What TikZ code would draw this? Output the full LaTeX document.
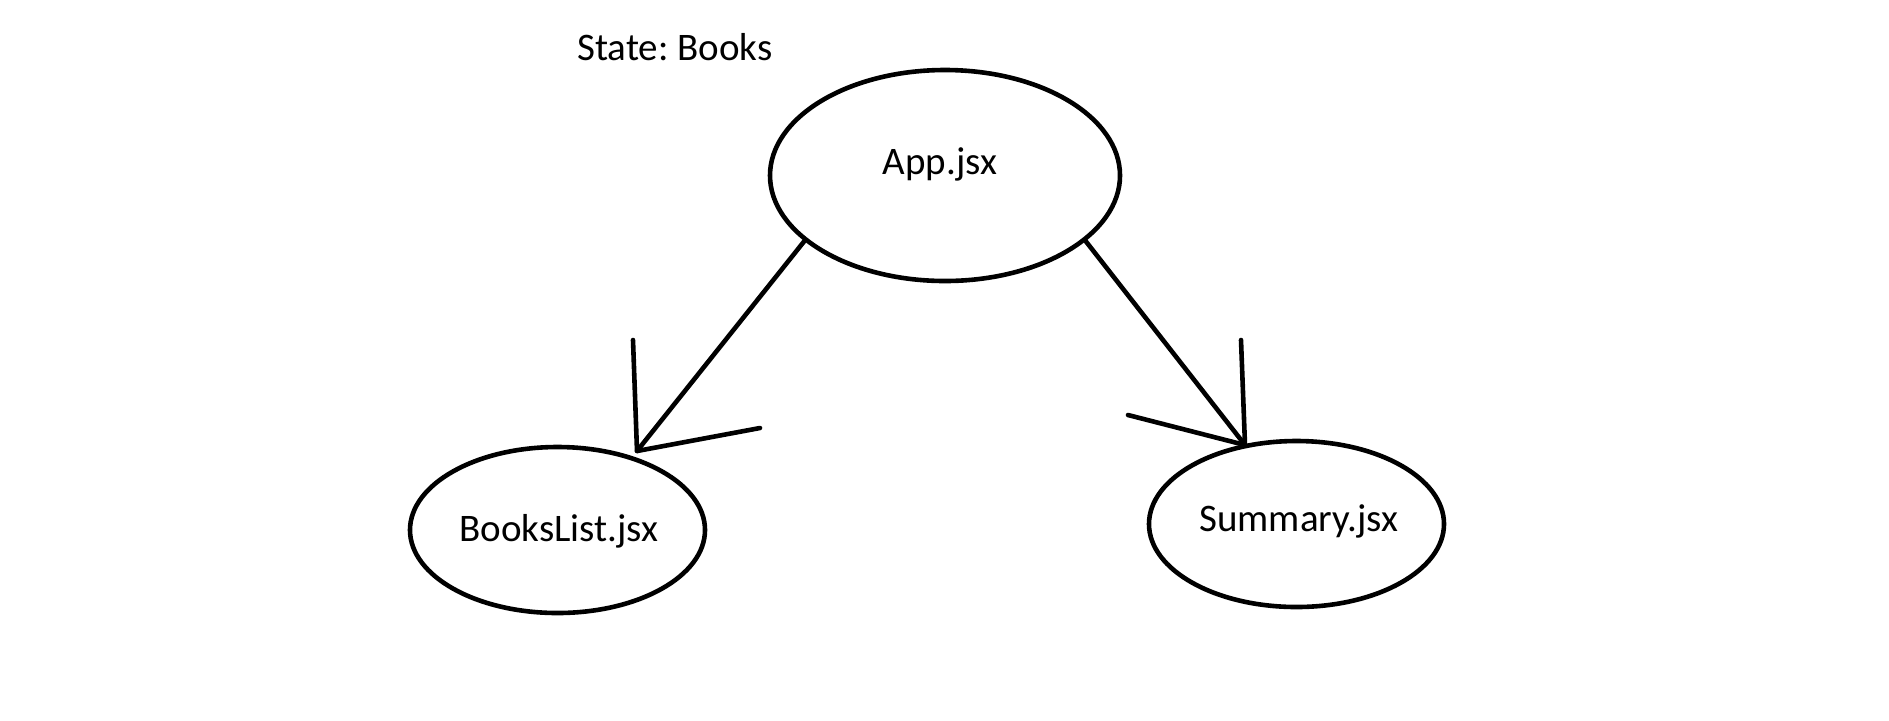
\documentclass[tikz,border=0pt]{standalone}
\usepackage{fontspec}
\setmainfont{Carlito}
\usetikzlibrary{shapes.geometric}
\frenchspacing
\begin{document}
\begin{tikzpicture}[x=0.5pt,y=-0.5pt,
  comp/.style={ellipse,draw,line width=2.3pt,inner sep=0pt,font=\fontsize{19.5pt}{23pt}\selectfont},
  lbl/.style={font=\fontsize{19.5pt}{23pt}\selectfont},
  link/.style={line width=2.3pt,line cap=round,line join=round}]
\useasboundingbox (0,0) rectangle (1889,720);
\node[comp,minimum width=175pt,minimum height=105.5pt] (app) at (945,175.5) {};
\node[lbl] (applbl) at (940,164) {App.jsx};
\node[comp,minimum width=147.5pt,minimum height=83pt] (books) at (557.5,530) {};
\node[lbl] (bookslbl) at (559,531) {BooksList.jsx};
\node[comp,minimum width=147.5pt,minimum height=83pt] (summary) at (1296.5,524) {};
\node[lbl] (summarylbl) at (1299,521) {Summary.jsx};
\node[lbl] (state) at (675,47) {State: Books};
\coordinate (t1) at (637,451);
\coordinate (h1a) at (633,340);
\coordinate (h1b) at (760,428);
\coordinate (t2) at (1245,445);
\coordinate (h2a) at (1241,340);
\coordinate (h2b) at (1128,415);
\draw[link] (app.205) -- (t1);
\draw[link] (h1a) -- (t1) -- (h1b);
\draw[link] (app.335) -- (t2);
\draw[link] (h2a) -- (t2) -- (h2b);
\end{tikzpicture}
\end{document}
